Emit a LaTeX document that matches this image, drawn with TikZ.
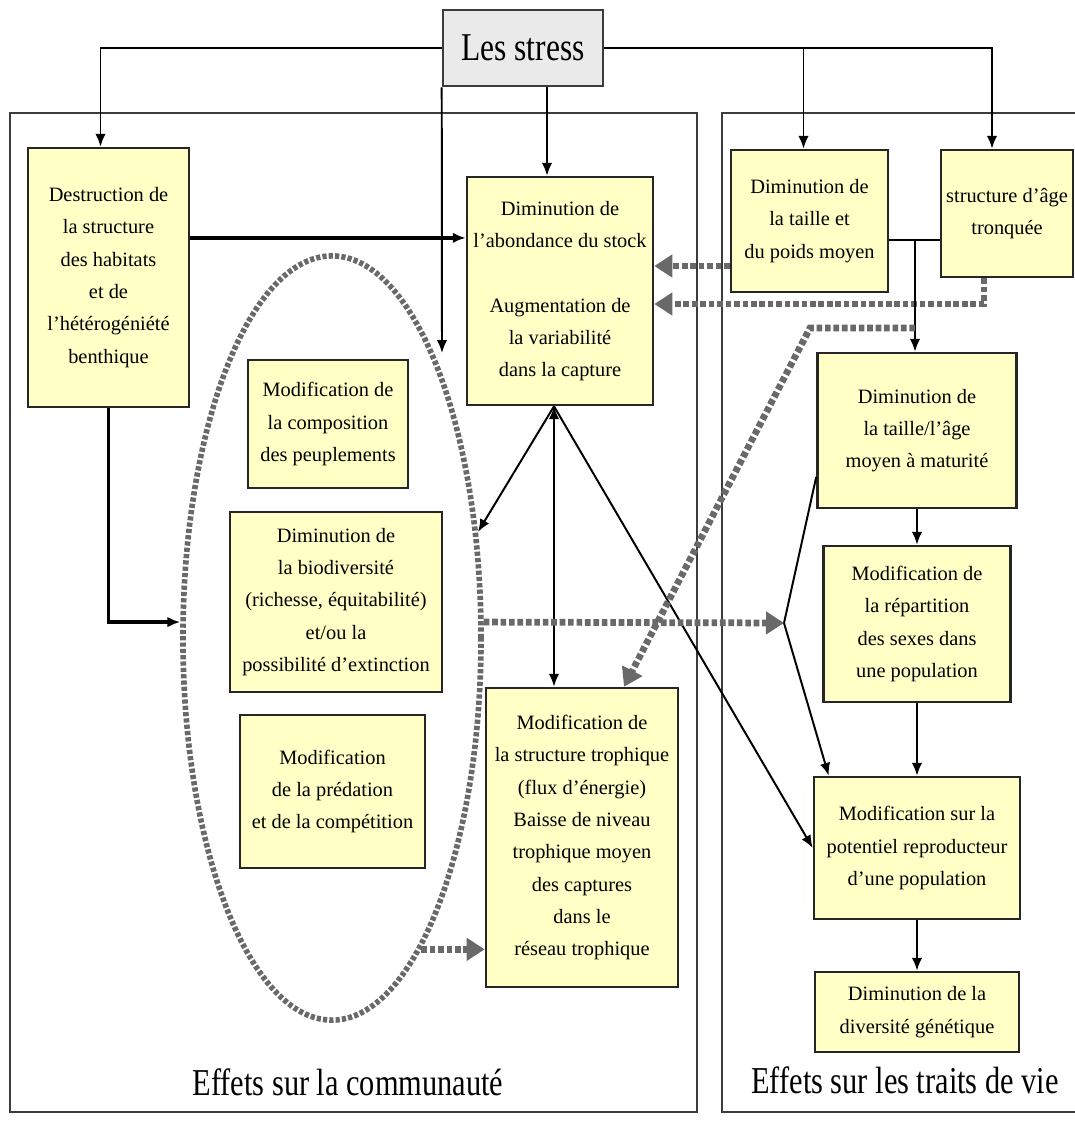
\documentclass[tikz,border=0pt]{standalone}
\usepackage{fontspec}
\setmainfont{Liberation Serif}
\newfontfamily\titlefont{Liberation Serif}[FakeStretch=0.8]
\usepackage{xcolor}
\usepackage{tikz}
\usetikzlibrary{shapes.geometric, arrows.meta, calc}

\definecolor{boxfill}{RGB}{255,255,198}
\definecolor{stressfill}{RGB}{234,234,234}
\definecolor{panelgrey}{RGB}{60,60,60}
\definecolor{dotgrey}{RGB}{105,105,105}

\begin{document}
\begin{tikzpicture}[x=0.025cm, y=-0.025cm,
    box/.style={rectangle, draw=black!85, line width=1.8pt, fill=boxfill, align=center, inner sep=0pt, font=\fontsize{14.5}{23}\selectfont},
    arrow/.style={-{Latex[length=3.2mm,width=2.6mm]}, line width=1.4pt},
    thickarrow/.style={arrow, line width=2.6pt},
    greyarrow/.style={-{Triangle[length=4.5mm,width=5.5mm]}, draw=dotgrey, line width=4.8pt, dash pattern=on 4pt off 2pt},
    ring/.style={ellipse, draw=dotgrey, line width=4pt, dash pattern=on 3pt off 1.5pt, minimum width=7.45cm, minimum height=19.1cm, inner sep=0pt},
    panel/.style={draw=panelgrey, line width=1.5pt},
    paneltitle/.style={font=\titlefont\fontsize{27}{30}\selectfont}
]
\useasboundingbox (0,0) rectangle (1075,1122);

% Panels
\draw[panel] (10,113) rectangle (697,1112);
\draw[panel] (1085,113) -- (722,113) -- (722,1112) -- (1085,1112);
\node[paneltitle] (commlabel) at (348,1082) {Effets sur la communauté};
\node[paneltitle] (traitlabel) at (905,1080) {Effets sur les traits de vie};

% Community ellipse
\node[ring] (ring) at (332,638) {};

% Boxes
\node[box, fill=stressfill, draw=panelgrey, minimum width=4.0cm, minimum height=1.9cm, font=\titlefont\fontsize{28}{30}\selectfont] (stress) at (523,48) {Les stress};
\node[box, minimum width=4.025cm, minimum height=6.475cm] (destr) at (108.5,277.5) {Destruction de\\la structure\\des habitats\\et de\\l'hétérogéniété\\benthique};
\node[box, minimum width=4.65cm, minimum height=5.7cm] (abond) at (560,291) {Diminution de\\l'abondance du stock\\[23pt]Augmentation de\\la variabilité\\dans la capture};
\node[box, minimum width=3.925cm, minimum height=3.55cm] (taille) at (809.5,221) {Diminution de\\la taille et\\du poids moyen};
\node[box, minimum width=3.3cm, minimum height=3.175cm] (agestr) at (1007,213.5) {structure d'âge\\tronquée};
\node[box, minimum width=4.0cm, minimum height=3.2cm] (compo) at (328,424) {Modification de\\la composition\\des peuplements};
\node[box, minimum width=5.3cm, minimum height=4.5cm] (biodiv) at (336,602) {Diminution de\\la biodiversité\\(richesse, équitabilité)\\et/ou la\\possibilité d'extinction};
\node[box, minimum width=4.625cm, minimum height=3.825cm] (preda) at (332.5,791.5) {Modification\\de la prédation\\et de la compétition};
\node[box, minimum width=4.8cm, minimum height=7.475cm] (troph) at (582,837.5) {Modification de\\la structure trophique\\(flux d'énergie)\\Baisse de niveau\\trophique moyen\\des captures\\dans le\\réseau trophique};
\node[box, minimum width=4.975cm, minimum height=3.875cm] (matur) at (917,430.5) {Diminution de\\la taille/l'âge\\moyen à maturité};
\node[box, minimum width=4.675cm, minimum height=3.9cm] (repart) at (917,624) {Modification de\\la répartition\\des sexes dans\\une population};
\node[box, minimum width=5.15cm, minimum height=3.55cm] (repro) at (917,848) {Modification sur la\\potentiel reproducteur\\d'une population};
\node[box, minimum width=5.1cm, minimum height=2.0cm] (genet) at (917,1012) {Diminution de la\\diversité génétique};

% Turning points
\coordinate (drop) at (442,353);
\coordinate (tj) at (915,240);
\coordinate (tk) at (915,328);
\coordinate (tl) at (810,328);
\coordinate (vj) at (784,623);
\coordinate (ab) at ([xshift=-0.15cm]abond.south);

% From the stresses
\draw[arrow] (stress.west) -| ([xshift=-0.2cm]destr.north);
\draw[arrow] (stress.east) -| ([xshift=-0.375cm]agestr.north);
\draw[arrow] ([xshift=-0.15cm]taille.north |- stress.east) -- ([xshift=-0.15cm]taille.north);
\draw[arrow] ([xshift=-0.325cm]abond.north |- stress.south) -- ([xshift=-0.325cm]abond.north);
\draw[arrow] (stress.south west) -- (drop);

% Habitat
\draw[thickarrow] ([yshift=0.99cm]destr.east) -- ([yshift=0.99cm]destr.east -| abond.west);
\draw[thickarrow] (destr.south) |- (ring.174);

% From abundance
\draw[arrow] (ab) -- (ring.36);
\draw[arrow, {Latex[length=3.2mm,width=2.6mm]}-{Latex[length=3.2mm,width=2.6mm]}] (ab) -- (ab |- troph.north);
\draw[arrow] (ab) -- (repro.west);

% Size and age
\draw[greyarrow] ([yshift=-1.125cm]taille.west) -- ([yshift=-1.125cm]taille.west -| abond.east);
\draw[greyarrow] ([xshift=-0.575cm]agestr.south) |- ([yshift=-0.325cm]abond.east);
\draw[line width=1.4pt] (taille.east |- tj) -- (agestr.west |- tj);
\draw[arrow] (tj) -- (tj |- matur.north);
\draw[greyarrow] (tk) -- (tl) -- ([xshift=1.05cm]troph.north);

% Life history chain
\draw[arrow] (matur.south) -- (repart.north);
\draw[arrow] (repart.south) -- (repro.north);
\draw[arrow] (repro.south) -- (genet.north);
\draw[line width=1.4pt] ([yshift=-1.16cm]matur.west) -- (vj);
\draw[arrow] (vj) -- ([xshift=0.4cm]repro.north west);

% From the community
\draw[greyarrow] (ring.6) -- (vj);
\draw[greyarrow] (ring.286) -- (ring.286 -| troph.west);

\end{tikzpicture}
\end{document}
